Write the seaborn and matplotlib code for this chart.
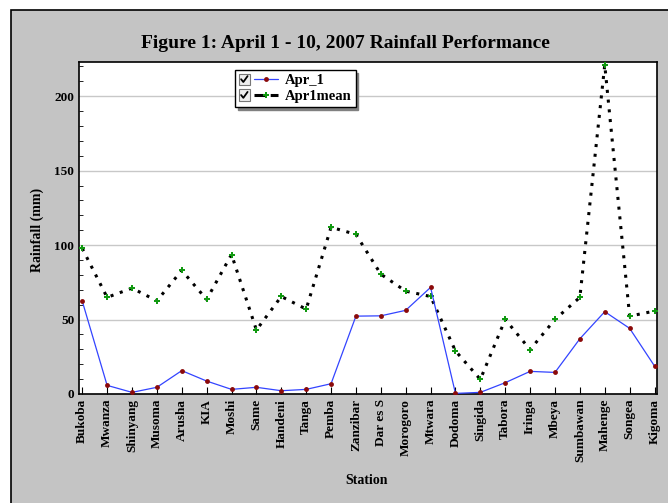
import matplotlib
matplotlib.use("Agg")
import matplotlib.pyplot as plt
import numpy as np
import pandas as pd
import seaborn as sns
from matplotlib.patches import Rectangle
from matplotlib.lines import Line2D
from matplotlib.legend_handler import HandlerBase
from matplotlib.ticker import MultipleLocator

stations = ["Bukoba", "Mwanza", "Shinyang", "Musoma", "Arusha", "KIA", "Moshi", "Same",
            "Handeni", "Tanga", "Pemba", "Zanzibar", "Dar es S", "Morogoro", "Mtwara",
            "Dodoma", "Singida", "Tabora", "Iringa", "Mbeya", "Sumbawan", "Mahenge",
            "Songea", "Kigoma"]
apr_1 = [62.4, 5.8, 1.1, 4.5, 15.7, 8.7, 3.1, 4.5, 2.2, 3.1, 6.9, 52.3,
         52.5, 56.2, 71.6, 0.4, 1.1, 7.6, 15.2, 14.5, 37.1, 55.3, 44.1, 18.8]
apr1mean = [97.8, 64.9, 71.1, 62.6, 83.0, 63.5, 93.7, 43.0, 65.5, 57.0, 112.0, 107.2,
            80.5, 69.1, 65.5, 28.9, 9.8, 50.1, 29.8, 50.1, 64.9, 221.0, 52.3, 55.7]

df = pd.DataFrame({"idx": np.arange(len(stations)), "station": stations,
                   "Apr_1": apr_1, "Apr1mean": apr1mean})

sns.set_style("white")
plt.rcParams["font.family"] = ["Liberation Serif", "DejaVu Serif"]
plt.rcParams["font.weight"] = "bold"
plt.rcParams["text.color"] = "black"
plt.rcParams["xtick.color"] = "black"
plt.rcParams["ytick.color"] = "black"

BLUE, RED, GREEN = "#3344ff", "#8b0a0a", "#119911"
DOTS = (0, (1, 2.2))


class CheckHandler(HandlerBase):
    # checkbox + short line + marker, like the old chart control legend
    def create_artists(self, legend, orig_handle, xdescent, ydescent, width, height,
                       fontsize, trans):
        s = height * 1.0
        x0, y0 = -xdescent, -ydescent + (height - s) / 2
        box = Rectangle((x0, y0), s, s, facecolor="#eeeeee", edgecolor="#777777",
                        linewidth=0.8, transform=trans)
        check = Line2D([x0 + 0.22 * s, x0 + 0.42 * s, x0 + 0.8 * s],
                       [y0 + 0.5 * s, y0 + 0.25 * s, y0 + 0.78 * s],
                       color="black", linewidth=1.3, transform=trans)
        ym = -ydescent + height / 2
        xl = x0 + s + 0.35 * s
        xr = width - xdescent
        line = Line2D([xl, xr], [ym, ym], color=orig_handle.get_color(),
                      linestyle=orig_handle.get_linestyle(),
                      linewidth=orig_handle.get_linewidth(), transform=trans)
        mk = Line2D([(xl + xr) / 2], [ym], linestyle="none",
                    marker=orig_handle.get_marker(),
                    markersize=orig_handle.get_markersize(),
                    color=orig_handle.get_markerfacecolor(), markeredgewidth=0,
                    transform=trans)
        return [box, check, line, mk]


W, H = 668, 503
fig = plt.figure(figsize=(W / 100, H / 100), dpi=100, facecolor="white")
bg = Rectangle((11 / W, -0.05), 1, 1.05 - 10 / H, transform=fig.transFigure,
               facecolor="#c4c4c4", edgecolor="black", linewidth=1.2, zorder=-10)
fig.patches.append(bg)

ax = fig.add_axes([79 / W, (H - 394) / H, (657 - 79) / W, (394 - 62) / H])
ax.set_facecolor("white")

sns.lineplot(data=df, x="idx", y="Apr1mean", ax=ax, color="black", linestyle=DOTS,
             linewidth=2.2, zorder=2)
ax.plot(df["idx"], df["Apr1mean"], linestyle="none", marker="P", markersize=4.3,
        color=GREEN, markeredgewidth=0, zorder=3)
sns.lineplot(data=df, x="idx", y="Apr_1", ax=ax, color=BLUE, linewidth=0.9, zorder=4)
ax.plot(df["idx"], df["Apr_1"], linestyle="none", marker="o", markersize=3.5,
        color=RED, markeredgewidth=0, zorder=5)

ax.set_xlim(-0.13, 23.1)
ax.set_ylim(0, 223)
ax.set_xticks(df["idx"])
ax.set_xticklabels(stations, rotation=90, fontsize=9.5, fontweight="bold")
ax.yaxis.set_major_locator(MultipleLocator(50))
ax.yaxis.set_minor_locator(MultipleLocator(10))
ax.tick_params(axis="both", which="both", direction="in", labelsize=9.5)
ax.tick_params(axis="both", which="major", length=5, width=0.8)
ax.tick_params(axis="y", which="minor", length=3, width=0.6, left=True)
ax.tick_params(axis="x", bottom=True)
for lbl in ax.get_yticklabels():
    lbl.set_fontweight("bold")
ax.grid(axis="y", which="major", color="#c8c8c8", linewidth=1)
ax.set_axisbelow(True)
for s in ax.spines.values():
    s.set_visible(True)
    s.set_color("black")
    s.set_linewidth(1.2)

ax.set_xlabel("")
ax.set_ylabel("")
fig.text(367 / W, 1 - 481 / H, "Station", ha="center", va="center", fontsize=10, fontweight="bold")
fig.text(37 / W, 1 - 230 / H, "Rainfall (mm)", ha="center", va="center", rotation=90,
         fontsize=10, fontweight="bold")
fig.text(345 / W, 1 - 43 / H, "Figure 1: April 1 - 10, 2007 Rainfall Performance",
         ha="center", va="center", fontsize=14, fontweight="bold")

h1 = Line2D([], [], color=BLUE, linewidth=0.9, marker="o", markersize=3.5,
            markerfacecolor=RED)
h2 = Line2D([], [], color="black", linestyle=DOTS, linewidth=2.2, marker="P",
            markersize=4.3, markerfacecolor=GREEN)
leg = ax.legend([h1, h2], ["Apr_1", "Apr1mean"], loc="upper left",
                bbox_to_anchor=((235 - 79) / (657 - 79), 1 - (70 - 62) / (394 - 62)),
                handler_map={Line2D: CheckHandler()},
                frameon=True, fancybox=False, shadow={"color": "#808080", "alpha": 1},
                fontsize=10.5, handlelength=2.7, handleheight=0.8,
                borderpad=0.25, labelspacing=0.15, handletextpad=0.5, borderaxespad=0)
leg.get_frame().set_edgecolor("black")
leg.get_frame().set_linewidth(1)
leg.get_frame().set_alpha(1)
for t in leg.get_texts():
    t.set_fontweight("bold")

fig.savefig("out.png", dpi=100, facecolor="white")
